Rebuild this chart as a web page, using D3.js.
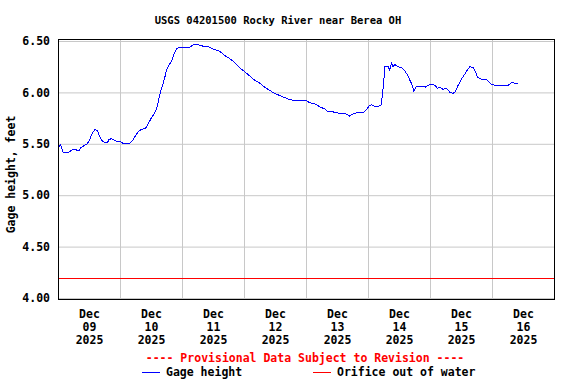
<!DOCTYPE html>
<html>
<head>
<meta charset="utf-8">
<script src="https://cdn.jsdelivr.net/npm/d3@7"></script>
<style>
	body { margin: 0; background: #fff; }
	svg text { font-family: "DejaVu Sans Mono", monospace; font-weight: bold; }
</style>
</head>
<body>
<svg class="hydrograph"></svg>
<script>
// hours since Dec 09 2025 00:00
const hours = [
	0.3, 1.0, 1.9, 4.2, 6.1, 8.1, 8.7, 10.0, 11.3, 12.3, 13.2, 14.3, 15.2, 16.1, 17.1, 18.1,
	19.1, 19.7, 20.7, 21.6, 22.9, 24.2, 25.5, 26.8, 28.1, 29.1, 30.0, 31.1, 32.3, 33.9, 34.8,
	36.1, 37.4, 38.3, 39.0, 39.6, 40.4, 41.3, 41.9, 42.8, 43.9, 44.9, 45.8, 46.8, 47.7, 50.9,
	52.2, 53.5, 54.8, 56.1, 58.0, 59.3, 61.3, 62.6, 64.5, 66.4, 68.4, 70.3, 72.3, 74.2, 76.1,
	78.1, 80.0, 81.9, 83.9, 85.8, 87.7, 89.7, 91.6, 96.2, 97.4, 99.4, 101.3, 103.2, 104.5,
	106.5, 108.4, 110.3, 111.6, 112.9, 114.2, 115.5, 118.1, 119.4, 120.4, 121.3, 122.0, 123.0,
	124.5, 125.2, 125.6, 126.1, 126.5, 127.8, 128.4, 129.1, 129.7, 130.4, 131.6, 133.0, 134.2,
	135.3, 136.2, 137.1, 137.8, 138.8, 141.7, 142.4, 143.3, 144.8, 145.9, 146.9, 147.8, 149.1,
	150.4, 151.7, 152.9, 153.9, 154.9, 156.2, 157.5, 158.5, 159.4, 160.7, 161.6, 162.4, 163.7,
	165.5, 166.5, 167.8, 169.1, 174.3, 175.8, 176.8, 177.9
];
const gageHeight = [
	5.47, 5.49, 5.42, 5.42, 5.45, 5.43, 5.46, 5.48, 5.50, 5.54, 5.60, 5.64, 5.63, 5.57, 5.53, 5.51,
	5.51, 5.54, 5.55, 5.54, 5.52, 5.52, 5.50, 5.50, 5.51, 5.54, 5.58, 5.62, 5.64, 5.65, 5.69,
	5.75, 5.80, 5.85, 5.93, 6.00, 6.06, 6.14, 6.21, 6.26, 6.30, 6.37, 6.42, 6.44, 6.44, 6.44,
	6.46, 6.47, 6.46, 6.45, 6.45, 6.43, 6.41, 6.40, 6.36, 6.33, 6.29, 6.24, 6.20, 6.16, 6.12,
	6.09, 6.05, 6.02, 5.99, 5.97, 5.95, 5.93, 5.92, 5.92, 5.90, 5.89, 5.86, 5.84, 5.81,
	5.81, 5.80, 5.79, 5.79, 5.77, 5.79, 5.80, 5.80, 5.83, 5.87, 5.88, 5.87, 5.86,
	5.87, 5.88, 5.99, 6.10, 6.25, 6.25, 6.22, 6.28, 6.25, 6.27, 6.25, 6.24, 6.21,
	6.17, 6.12, 6.07, 6.01, 6.06, 6.06, 6.05, 6.07, 6.08, 6.07, 6.04, 6.05, 6.03,
	6.04, 6.00, 5.99, 6.01, 6.07, 6.13, 6.18, 6.22, 6.25, 6.24, 6.20, 6.15, 6.13,
	6.13, 6.11, 6.08, 6.07, 6.07, 6.10, 6.09, 6.09
];
const orificeLevel = 4.19;
const yTicks = [4.00, 4.50, 5.00, 5.50, 6.00, 6.50];
const days = ['2025-12-09', '2025-12-10', '2025-12-11', '2025-12-12',
	'2025-12-13', '2025-12-14', '2025-12-15', '2025-12-16', '2025-12-17'];

const title = 'USGS 04201500 Rocky River near Berea OH';
const yLabel = 'Gage height, feet';
const provisional = '---- Provisional Data Subject to Revision ----';
const seriesNames = ['Gage height', 'Orifice out of water'];

const svg = d3.select('.hydrograph')
	.attr('width', 576)
	.attr('height', 384);

const parseDay = d3.timeParse('%Y-%m-%d');
const dayDates = days.map(parseDay);
const start = dayDates[0];
const data = hours.map((h, i) => ({
	date: new Date(start.getTime() + h * 3600e3),
	value: gageHeight[i]
}));

const plot = { left: 58, right: 554, top: 41, bottom: 298 };

const xScale = d3.scaleTime()
	.domain([dayDates[0], dayDates[dayDates.length - 1]])
	.range([plot.left, plot.right]);

const yScale = d3.scaleLinear()
	.domain([4, 6.5])
	.range([plot.bottom, plot.top]);

// horizontal grid + y labels
const yAxisG = svg.append('g')
	.attr('transform', `translate(${plot.left},0)`)
	.call(d3.axisLeft(yScale)
		.tickValues(yTicks)
		.tickFormat(d3.format('.2f'))
		.tickSize(-(plot.right - plot.left))
		.tickPadding(8));
yAxisG.select('.domain').remove();
yAxisG.selectAll('line').attr('stroke', '#c8c8c8');
yAxisG.attr('font-family', null).attr('font-size', null);
yAxisG.selectAll('text')
	.style('font-size', '11.5px')
	.attr('fill', '#000');

// vertical grid at midnight
const xGridG = svg.append('g')
	.attr('transform', `translate(0,${plot.bottom + 1})`)
	.call(d3.axisBottom(xScale)
		.tickValues(dayDates.slice(1, -1))
		.tickFormat('')
		.tickSize(-(plot.bottom - plot.top + 3)));
xGridG.select('.domain').remove();
xGridG.selectAll('line').attr('stroke', '#c8c8c8');

// day labels at noon
const noons = dayDates.slice(0, -1).map(d => d3.timeHour.offset(d, 12));
const xLabelG = svg.append('g')
	.attr('transform', `translate(0,${plot.bottom + 1})`)
	.call(d3.axisBottom(xScale)
		.tickValues(noons)
		.tickSize(0)
		.tickFormat(''));
xLabelG.select('.domain').remove();
xLabelG.attr('font-family', null).attr('font-size', null);
xLabelG.selectAll('.tick text')
	.attr('y', 0)
	.attr('dy', null)
	.style('font-size', '11.5px')
	.attr('fill', '#000')
	.each(function(d) {
		const t = d3.select(this);
		['%b', '%d', '%Y'].forEach((f, i) => {
			t.append('tspan')
				.attr('x', 0)
				.attr('y', 19 + i * 13)
				.text(d3.timeFormat(f)(d));
		});
	});

// orifice line
svg.append('line')
	.attr('x1', plot.left)
	.attr('x2', plot.right)
	.attr('y1', yScale(orificeLevel))
	.attr('y2', yScale(orificeLevel))
	.attr('stroke', '#ff0000')
	.attr('shape-rendering', 'crispEdges');

// gage height
const line = d3.line()
	.x(d => xScale(d.date))
	.y(d => yScale(d.value));

svg.append('path')
	.datum(data)
	.attr('d', line)
	.attr('fill', 'none')
	.attr('stroke', '#0000ff')
	.attr('stroke-width', 1)
	.attr('shape-rendering', 'crispEdges');

// frame
svg.append('rect')
	.attr('x', plot.left + 0.5)
	.attr('y', plot.top - 1.5)
	.attr('width', plot.right - plot.left)
	.attr('height', plot.bottom - plot.top + 3)
	.attr('fill', 'none')
	.attr('stroke', '#000');

svg.append('text')
	.attr('x', 278)
	.attr('y', 24)
	.attr('text-anchor', 'middle')
	.style('font-size', '10.5px')
	.text(title);

svg.append('text')
	.attr('transform', `translate(15,${(plot.top + plot.bottom) / 2 + 5}) rotate(-90)`)
	.attr('text-anchor', 'middle')
	.style('font-size', '11.5px')
	.text(yLabel);

svg.append('text')
	.attr('x', 305)
	.attr('y', 362)
	.attr('text-anchor', 'middle')
	.attr('fill', '#ff0000')
	.style('font-size', '11.5px')
	.text(provisional);

const legend = svg.append('g');
const legendItems = [
	{ name: seriesNames[0], color: '#0000ff', x: 142 },
	{ name: seriesNames[1], color: '#ff0000', x: 313 }
];
legendItems.forEach(item => {
	legend.append('line')
		.attr('x1', item.x)
		.attr('x2', item.x + 18)
		.attr('y1', 372.5)
		.attr('y2', 372.5)
		.attr('stroke', item.color);
	legend.append('text')
		.attr('x', item.x + 24)
		.attr('y', 376)
		.style('font-size', '11.5px')
		.text(item.name);
});
</script>
</body>
</html>
